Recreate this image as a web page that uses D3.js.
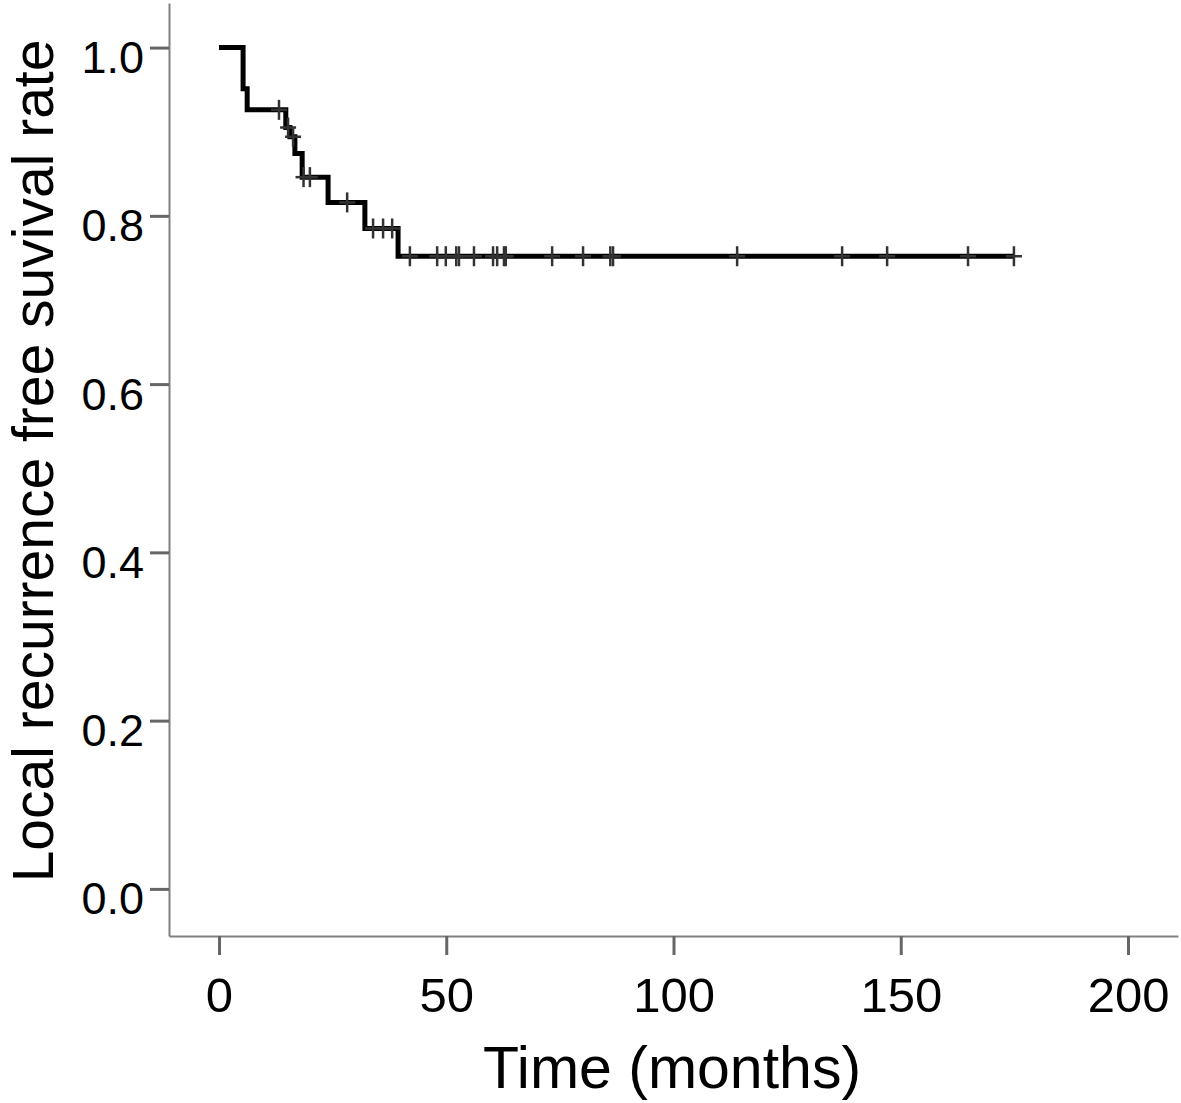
<!DOCTYPE html>
<html>
<head>
<meta charset="utf-8">
<script src="https://cdn.jsdelivr.net/npm/d3@7"></script>
<style>
  body { margin: 0; background: #fff; }
  text { font-family: Arial, 'Liberation Sans', sans-serif; fill: #000; }
</style>
</head>
<body>
<div id="chart"></div>
<script>
// Kaplan-Meier steps (months) and survival just after each event
var eventTimes = [5.3, 6.2, 14.7, 15.6, 16.7, 18.3, 24.0, 32.1, 39.4]
var survAfter = [0.951, 0.926, 0.905, 0.894, 0.874, 0.846, 0.816, 0.785, 0.752]
// censored observations (months)
var censorTimes = [13.2, 15.2, 16.3, 18.6, 20.0, 28.2, 33.9, 36.1, 38.1, 42.0, 48.0, 49.9,
  52.2, 52.8, 56.1, 60.3, 61.2, 62.7, 63.1, 73.3, 80.1, 86.1, 86.7, 114.0, 137.1, 147.0, 164.8, 174.9]
var lastTime = 174.9
var xTicks = [0, 50, 100, 150, 200]
var yTicks = [0.0, 0.2, 0.4, 0.6, 0.8, 1.0]

var width = 1181
var height = 1103

var svg = d3
  .select('#chart')
  .append('svg')
  .attr('width', width)
  .attr('height', height)

var x = d3.scaleLinear().domain([-11, 211]).range([169, 1178])
var y = d3.scaleLinear().domain([-0.056, 1.053]).range([936, 3])

// x axis
var xAxis = svg
  .append('g')
  .attr('transform', 'translate(0,936)')
  .call(d3.axisBottom(x).tickValues(xTicks).tickSize(19).tickSizeOuter(0))
xAxis.select('.domain').attr('stroke', '#808080').attr('stroke-width', 2)
xAxis.selectAll('.tick line').attr('stroke', '#666').attr('stroke-width', 3)
xAxis
  .selectAll('.tick text')
  .attr('y', 76)
  .attr('dy', null)
  .attr('font-size', 49)

// y axis
var yAxis = svg
  .append('g')
  .attr('transform', 'translate(169,0)')
  .call(
    d3.axisLeft(y).tickValues(yTicks).tickSize(19).tickSizeOuter(0).tickFormat(d3.format('.1f'))
  )
yAxis.select('.domain').attr('stroke', '#808080').attr('stroke-width', 2)
yAxis.selectAll('.tick line').attr('stroke', '#666').attr('stroke-width', 3)
yAxis
  .selectAll('.tick text')
  .attr('x', -25)
  .attr('y', 25)
  .attr('dy', null)
  .attr('font-size', 45)

// step function
function survAt(t) {
  var s = 1
  eventTimes.forEach(function(e, i) {
    if (e <= t) s = survAfter[i]
  })
  return s
}

var steps = [[0, 1]]
eventTimes.forEach(function(t, i) {
  steps.push([t, survAfter[i]])
})
steps.push([lastTime, survAt(lastTime)])

var line = d3
  .line()
  .x(d => x(d[0]))
  .y(d => y(d[1]))
  .curve(d3.curveStepAfter)

svg
  .append('path')
  .datum(steps)
  .attr('d', line)
  .attr('fill', 'none')
  .attr('stroke', '#000')
  .attr('stroke-width', 5)

// censor marks (+)
var marks = svg
  .selectAll('.censor')
  .data(censorTimes)
  .enter()
  .append('g')
  .attr('class', 'censor')
  .attr('transform', d => 'translate(' + x(d) + ',' + y(survAt(d)) + ')')
marks
  .append('line')
  .attr('y1', -10)
  .attr('y2', 10)
  .attr('stroke', '#333')
  .attr('stroke-width', 2.5)
marks
  .append('line')
  .attr('x1', -8)
  .attr('x2', 8)
  .attr('stroke', '#333')
  .attr('stroke-width', 2.5)

// titles
svg
  .append('text')
  .attr('x', 672)
  .attr('y', 1088)
  .attr('text-anchor', 'middle')
  .attr('font-size', 59)
  .text('Time (months)')

svg
  .append('text')
  .attr('transform', 'translate(53,461) rotate(-90)')
  .attr('text-anchor', 'middle')
  .attr('font-size', 57)
  .text('Local recurrence free suvival rate')
</script>
</body>
</html>
